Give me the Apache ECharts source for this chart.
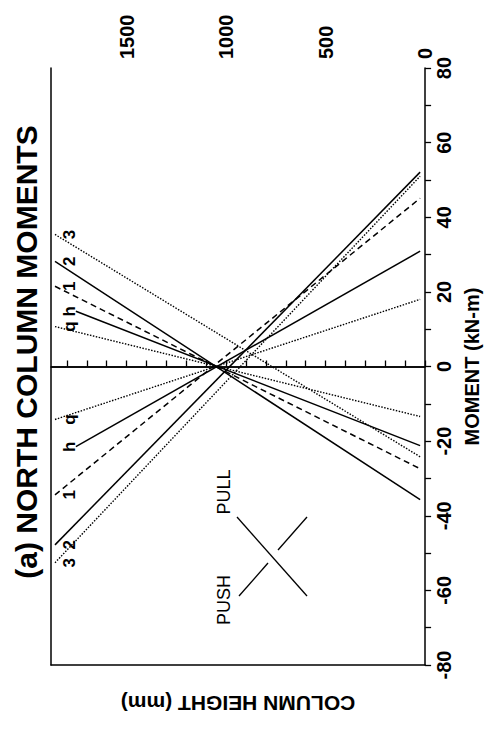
<!DOCTYPE html>
<html>
<head>
<meta charset="utf-8">
<script src="https://cdn.jsdelivr.net/npm/echarts@6/dist/echarts.min.js"></script>
<style>
  html, body { margin: 0; padding: 0; background: #fff; }
  #chart { width: 490px; height: 729px; }
</style>
</head>
<body>
<div id="chart"></div>
<script>
// Column height (mm) at the ends of each fitted moment line
const heightBase = 25;
const heightTop = [1860, 1755, 1860, 1860, 1860];   // q, h, 1, 2, 3

// Load levels, labelled at the top of the column
const levels = ['q', 'h', '1', '2', '3'];

// PULL direction: moment (kN-m) at the top end and at the base
const pullTop  = [10.7, 14.8, 21.5, 28.2, 35.4];
const pullBase = [-13.4, -21.2, -27.4, -35.7, -24.2];

// PUSH direction: moment (kN-m) at the top end and at the base
const pushTop  = [-14.2, -21.5, -34.4, -47.8, -52.6];
const pushBase = [18.0, 30.9, 45.1, 52.1, 51.0];

// Axis ranges and labelled ticks
const heightMax = 1880;
const heightLabelStep = 500;
const momentMin = -80, momentMax = 80;
const momentLabelStep = 20;

const INK = '#000';
const FONT = '"Liberation Sans", Arial, Helvetica, sans-serif';

// line pattern for each load level
const levelStyle = {
  q: { type: [1.5, 1.5], width: 1.4 },
  h: { type: 'solid', width: 1.5 },
  '1': { type: [6, 4], width: 1.5 },
  '2': { type: 'solid', width: 1.5 },
  '3': { type: [1.5, 1.5], width: 1.4 }
};

const labelHeight = 1785;

const series = [];
function addFamily(name, tops, bases) {
  levels.forEach((lv, i) => {
    const st = levelStyle[lv];
    series.push({
      name: name + ' ' + lv,
      type: 'line',
      xAxisIndex: 0, yAxisIndex: 0,
      symbol: 'none',
      silent: true,
      animation: false,
      lineStyle: { color: INK, width: st.width, type: st.type },
      data: [[heightTop[i], tops[i]], [heightBase, bases[i]]]
    });
  });
  // level labels at the top end of the lines
  series.push({
    name: name + ' labels',
    type: 'scatter',
    xAxisIndex: 0, yAxisIndex: 0,
    symbolSize: 0,
    silent: true,
    animation: false,
    itemStyle: { opacity: 1, color: INK },
    label: {
      show: true,
      position: 'inside',
      rotate: 90,
      color: INK,
      opacity: 1,
      textBorderWidth: 0,
      fontFamily: FONT,
      fontWeight: 'bold',
      fontSize: 17,
      formatter: p => levels[p.dataIndex]
    },
    data: levels.map((lv, i) => [labelHeight, tops[i]])
  });
}
addFamily('PULL', pullTop, pullBase);
addFamily('PUSH', pushTop, pushBase);

// zero-moment reference line
series[0].markLine = {
  silent: true,
  symbol: 'none',
  animation: false,
  label: { show: false },
  lineStyle: { color: INK, width: 1.5, type: 'solid' },
  data: [{ yAxis: 0 }]
};

const chart = echarts.init(document.getElementById('chart'), null, { renderer: 'svg' });

chart.setOption({
  backgroundColor: '#fff',
  animation: false,
  grid: { left: 51, right: 62, top: 68, bottom: 64, show: false },
  xAxis: [
    {
      type: 'value',
      position: 'top',
      inverse: true,
      min: 0, max: heightMax, interval: 100,
      axisLine: { show: true, lineStyle: { color: INK, width: 1.5 } },
      axisTick: { show: true, inside: false, length: 6, lineStyle: { color: INK, width: 1.3 } },
      axisLabel: {
        rotate: 90,
        margin: 9,
        color: INK,
        fontFamily: FONT,
        fontWeight: 'bold',
        fontSize: 20,
        showMaxLabel: false,
        formatter: v => (v % heightLabelStep === 0 ? String(v) : '')
      },
      splitLine: { show: false }
    },
    {
      type: 'value',
      position: 'bottom',
      inverse: true,
      min: 0, max: heightMax,
      axisLine: { show: true, onZero: false, lineStyle: { color: INK, width: 1.5 } },
      axisTick: { show: false },
      axisLabel: { show: false },
      splitLine: { show: false },
      name: 'COLUMN HEIGHT (mm)',
      nameLocation: 'middle',
      nameRotate: 180,
      nameGap: 28,
      nameTextStyle: { color: INK, fontFamily: FONT, fontWeight: 'bold', fontSize: 21 }
    }
  ],
  yAxis: [
    {
      type: 'value',
      position: 'right',
      min: momentMin, max: momentMax, interval: 10,
      axisLine: { show: true, onZero: false, lineStyle: { color: INK, width: 1.5 } },
      axisTick: { show: true, inside: false, length: 6, lineStyle: { color: INK, width: 1.3 } },
      axisLabel: {
        rotate: 90,
        margin: 9,
        color: INK,
        fontFamily: FONT,
        fontWeight: 'bold',
        fontSize: 20,
        formatter: v => (v % momentLabelStep === 0 ? String(v) : '')
      },
      splitLine: { show: false },
      name: 'MOMENT (kN-m)',
      nameLocation: 'middle',
      nameRotate: 90,
      nameGap: 34,
      nameTextStyle: { color: INK, fontFamily: FONT, fontWeight: 'bold', fontSize: 20 }
    },
    {
      type: 'value',
      position: 'left',
      min: momentMin, max: momentMax,
      axisLine: { show: true, onZero: false, lineStyle: { color: INK, width: 1.5 } },
      axisTick: { show: false },
      axisLabel: { show: false },
      splitLine: { show: false }
    }
  ],
  graphic: [
    {
      type: 'text',
      x: 26, y: 352,
      rotation: Math.PI / 2,
      silent: true,
      style: {
        text: '(a) NORTH COLUMN MOMENTS',
        fill: INK,
        font: 'bold 30px ' + FONT,
        align: 'center',
        verticalAlign: 'middle'
      }
    },
    // PUSH / PULL key
    {
      type: 'text', x: 224, y: 492, rotation: Math.PI / 2, silent: true,
      style: { text: 'PULL', fill: INK, font: '18px ' + FONT, align: 'center', verticalAlign: 'middle' }
    },
    {
      type: 'text', x: 224, y: 600, rotation: Math.PI / 2, silent: true,
      style: { text: 'PUSH', fill: INK, font: '18px ' + FONT, align: 'center', verticalAlign: 'middle' }
    },
    {
      type: 'line', silent: true,
      shape: { x1: 237, y1: 517, x2: 307, y2: 596 },
      style: { stroke: INK, lineWidth: 1.3 }
    },
    {
      type: 'line', silent: true,
      shape: { x1: 239, y1: 596, x2: 268, y2: 563 },
      style: { stroke: INK, lineWidth: 1.3 }
    },
    {
      type: 'line', silent: true,
      shape: { x1: 278, y1: 550, x2: 307, y2: 517 },
      style: { stroke: INK, lineWidth: 1.3 }
    }
  ],
  series: series
});
</script>
</body>
</html>
